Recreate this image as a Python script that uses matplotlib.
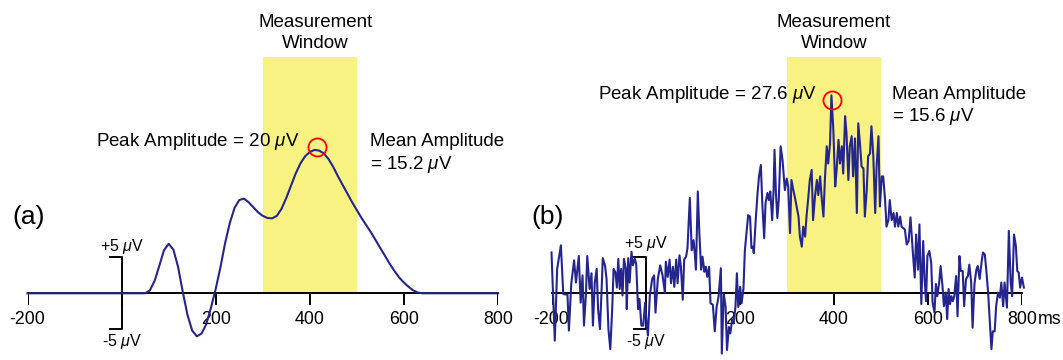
import matplotlib
matplotlib.use("Agg")
import matplotlib.pyplot as plt

plt.rcParams['font.family'] = ['Liberation Sans', 'DejaVu Sans']
plt.rcParams['mathtext.fontset'] = 'custom'
plt.rcParams['mathtext.rm'] = 'Liberation Sans'
plt.rcParams['mathtext.it'] = 'Liberation Sans:italic'

# panel (a): clean averaged ERP waveform (ms, microvolts)
clean_ms = [-200, 50, 60, 70, 80, 90, 100, 110, 120, 130, 140, 150, 160, 170, 180, 190,
            200, 210, 220, 230, 240, 250, 260, 270, 280, 290, 300, 310, 320, 330, 340,
            350, 360, 370, 380, 390, 400, 410, 420, 430, 440, 450, 460, 470, 480, 490,
            500, 510, 520, 530, 540, 550, 560, 570, 580, 590, 600, 610, 620, 630, 640, 800]
clean_uv = [0, 0, 0.4, 1.7, 3.8, 6.0, 6.9, 6.1, 3.7, 0.2, -3.0, -5.2, -6.0, -5.6, -4.3, -2.0,
            0.6, 3.6, 7.0, 9.8, 11.9, 13.0, 13.2, 12.7, 12.0, 11.3, 10.8, 10.5, 10.45, 10.8, 11.8,
            13.3, 15.0, 16.7, 18.1, 19.1, 19.7, 20.0, 19.9, 19.5, 18.7, 17.6, 16.3, 15.1, 13.9, 12.7,
            11.6, 10.5, 9.5, 8.5, 7.4, 6.3, 5.2, 4.1, 3.1, 2.2, 1.5, 0.9, 0.4, 0.1, 0, 0]

base_ms = [-200, -193, -188, -180, -175, -166, -163, -158, -152, -148,
           -142, -138, -134, -131, -127, -124, -119, -115, -112, -108,
           -104, -101, -97, -93, -91, -86, -83, -79, -75, -71,
           -68, -64, -61, -58, -55, -52, -49, -46, -42, -40,
           -37, -34, -30, -27, -23, -20, -16, -13, -9, -5,
           -1, 2, 5, 9, 14, 18, 21, 26, 31, 36,
           41]
base_uv = [5.7, -6.6, 3.4, 6.7, -0.1, -0.2, -5.2, 1.3, 4.6, 1.5,
           5.2, -1.3, 2.5, -4.5, -0.3, 5.2, 0.6, 2.8, -4.5, 1.5,
           3.4, -2.2, -5.0, 1.3, 4.9, 3.8, 2.0, -5.0, -7.8, -2.2,
           3.4, 2.9, 0.8, 4.8, 0.6, 3.4, -0.3, 4.8, 3.4, -2.2,
           4.9, 1.5, 5.8, 3.9, 4.8, 4.1, -2.2, -0.8, -4.5, -4.5,
           -1.3, -4.0, -5.9, -0.3, 2.0, 2.5, -2.7, 2.0, 3.9, 2.5,
           0.1]

early_ms = [43, 47, 51, 54, 58, 61, 65, 68, 72, 75,
            79, 82, 86, 89, 94, 98, 102, 105, 107, 111,
            114, 118, 121, 125, 128, 131, 135, 138, 143, 147,
            151, 155, 160, 162, 166, 170, 173, 177, 180, 184,
            187, 191, 194, 197, 201, 204, 208, 211, 215, 218,
            222, 225, 228, 230, 234, 238, 241, 245, 248, 252,
            255, 259, 262, 265, 269, 272, 274, 277, 280, 283,
            287, 291]
early_uv = [4.4, 2.3, 4.7, 1.4, 3.7, 0.9, 4.7, 1.4, 5.3, 3.7,
            -0.9, 4.7, 5.1, 6.3, 13.3, 6.0, 7.4, 5.1, 3.3, 14.2,
            8.8, 3.3, 5.1, 3.0, 3.7, 2.3, 3.7, -1.4, -1.6, -5.3,
            -1.9, -0.5, 3.5, -8.4, 0.0, -1.9, -7.9, -4.7, -5.6, -3.7,
            -4.2, -1.9, 2.8, -1.9, 0.9, -1.4, 0.7, 6.0, 8.8, 10.9,
            10.7, 6.3, 6.5, 5.6, 10.2, 14.0, 16.3, 17.9, 12.6, 7.7,
            12.6, 14.0, 13.0, 14.2, 10.2, 14.4, 20.0, 14.0, 10.5, 13.0,
            20.5, 18.6]

mid_ms = [296, 300, 303, 307, 310, 314, 317, 321, 325, 328,
          332, 335, 339, 342, 346, 349, 353, 356, 360, 364,
          367, 371, 374, 378, 381, 385, 388, 392, 395, 399,
          403, 406, 410, 413, 417, 420, 424, 427, 431, 434,
          438, 441, 445, 449, 452, 456, 459, 463, 466, 470,
          473, 477, 480, 484, 488, 491, 495, 498, 502, 505,
          509, 512, 516, 519, 523, 527, 530, 534, 537, 541,
          544]
mid_uv = [14.4, 16.0, 14.9, 8.4, 15.8, 14.4, 13.5, 12.1, 10.7, 7.9,
          6.5, 9.3, 7.9, 10.7, 13.5, 15.8, 17.2, 10.2, 13.5, 15.8,
          13.7, 16.3, 13.5, 10.7, 15.8, 20.5, 18.1, 20.9, 27.6, 22.8,
          14.9, 17.2, 21.4, 18.1, 20.5, 16.7, 24.7, 22.3, 15.8, 20.5,
          21.9, 16.3, 21.6, 11.2, 23.7, 20.5, 17.7, 17.4, 10.7, 14.4,
          19.1, 19.5, 23.3, 19.1, 11.2, 17.7, 21.9, 12.1, 16.3, 16.3,
          13.0, 9.3, 10.2, 13.0, 10.2, 11.2, 9.3, 11.2, 9.3, 10.7,
          9.3]

late_ms = [551, 555, 559, 563, 568, 572, 575, 579, 582, 586,
           590, 593, 596, 599, 603, 607, 610, 614, 617, 620,
           624, 627, 631, 634, 638, 641, 644, 647, 650, 653,
           656, 660, 663, 667, 670, 674, 677, 681, 685, 688,
           692, 695, 699, 703, 706, 710, 714, 717, 721, 724,
           728, 731, 735, 738, 742, 745, 749, 753, 756, 760,
           763, 768, 772, 776, 779, 783, 787, 790, 793, 796,
           800, 804]
late_uv = [8.9, 6.8, 7.3, 10.6, 5.7, 2.2, 8.2, 3.3, 9.6, -1.5,
           7.3, 2.0, -1.1, 5.2, 5.9, 4.3, -1.3, -2.7, 1.3, -0.4,
           1.5, 3.8, 1.0, -1.8, 0.1, -3.6, 0.6, -1.5, -0.4, -1.1,
           -0.4, 2.4, -3.2, 5.2, 3.1, 3.1, -1.8, 2.0, 2.4, 4.0,
           1.5, -4.8, 1.3, 3.3, 3.8, 2.0, 4.3, 5.7, 5.4, 3.3,
           0.1, -3.2, -7.8, -5.3, -5.3, -1.8, 0.1, -0.6, 1.5, -1.8,
           1.5, -2.0, 8.7, 1.5, -0.4, 8.2, 6.6, 3.1, 2.9, 0.8,
           2.2, 0.8]

noisy_ms = base_ms + early_ms + mid_ms + late_ms
noisy_uv = base_uv + early_uv + mid_uv + late_uv

tick_ms = [-200, 0, 200, 400, 600, 800]
tick_labels = ["-200", "", "200", "400", "600", "800"]
window_ms = [300, 500]

BLUE = "#25258f"
YELLOW = "#f8f283"
YMIN, YMAX = -9.3, 40.9


def draw_panel(ax, ms, uv, letter, peak, peak_text, mean_text, text_pos):
    ax.set_xlim(-200, 800)
    ax.set_ylim(YMIN, YMAX)
    ax.set_axis_off()

    ax.fill_between(window_ms, 0, 32.9, color=YELLOW, lw=0, zorder=0)
    ax.text(text_pos['win_x'], 37.8, "Measurement", ha='center', va='center', fontsize=13.5)
    ax.text(text_pos['win_x'], 34.8, "Window", ha='center', va='center', fontsize=13.5)

    ax.plot([-200, 800], [0, 0], color='black', lw=1.4, zorder=2, clip_on=False)
    for t, lab in zip(tick_ms, tick_labels):
        ax.plot([t, t], [0, -1.5], color='black', lw=1.4, zorder=2)
        ax.text(t, -3.6, lab, ha='center', va='center', fontsize=12.8)

    # +/-5 uV calibration bar at time zero
    ax.plot([-25, 0, 0, -25], [5, 5, -5, -5], color='black', lw=1.4, zorder=2)
    ax.text(0, text_pos['plus_y'], r"+5 $\mu$V", ha='center', va='center', fontsize=11.5)
    ax.text(0, -6.75, r"-5 $\mu$V", ha='center', va='center', fontsize=11.5)

    ax.plot(ms, uv, color=BLUE, lw=1.5, zorder=3, clip_on=False)
    ax.plot(peak[0], peak[1], 'o', mfc='none', mec='red', ms=13, mew=1.3, zorder=4)

    ax.text(text_pos['peak_x'], text_pos['peak_y'], peak_text, ha='right', va='center', fontsize=13.5)
    ax.text(text_pos['mean_x'], text_pos['peak_y'], "Mean Amplitude", ha='left', va='center', fontsize=13.5)
    ax.text(text_pos['mean_x'], text_pos['peak_y'] - 3.1, mean_text, ha='left', va='center', fontsize=13.5)
    ax.text(text_pos['letter_x'], 10.6, letter, ha='left', va='center', fontsize=19)


fig = plt.figure(figsize=(10.63, 3.6), dpi=100)
ax_a = fig.add_axes([27.5 / 1063, 0, 470.5 / 1063, 1])
ax_b = fig.add_axes([551.5 / 1063, 0, 470.5 / 1063, 1])

draw_panel(ax_a, clean_ms, clean_uv, "(a)", (415, 20.4),
           r"Peak Amplitude = 20 $\mu$V", r"= 15.2 $\mu$V",
           dict(win_x=412, peak_x=377, peak_y=21.1, mean_x=528, letter_x=-233, plus_y=6.5))
draw_panel(ax_b, noisy_ms, noisy_uv, "(b)", (397, 27.0),
           r"Peak Amplitude = 27.6 $\mu$V", r"= 15.6 $\mu$V",
           dict(win_x=400, peak_x=364, peak_y=27.7, mean_x=523, letter_x=-243, plus_y=7.0))
ax_b.text(833, -3.6, "ms", ha='left', va='center', fontsize=12.8)

fig.savefig("out.png", dpi=100)
